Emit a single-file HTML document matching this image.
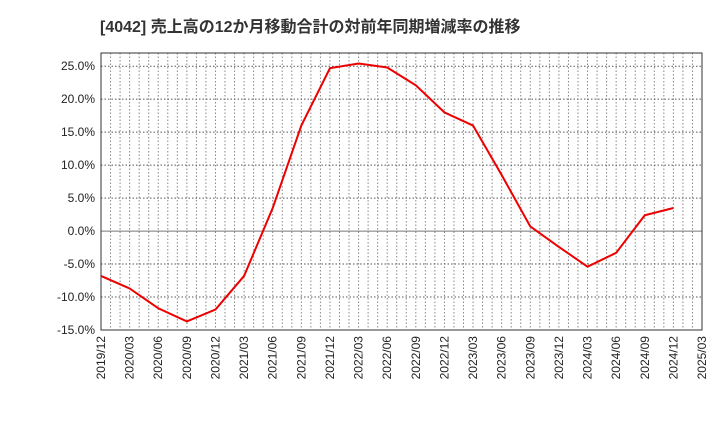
<!DOCTYPE html>
<html><head><meta charset="utf-8"><style>
body{margin:0;background:#fff;font-family:"Liberation Sans","Noto Sans CJK JP",sans-serif;}
</style></head><body>
<svg width="720" height="440" xmlns="http://www.w3.org/2000/svg">
<text x="100" y="32" font-size="16" font-weight="bold" fill="#333" font-family="Liberation Sans, Noto Sans CJK JP, sans-serif">[4042]  売上高の12か月移動合計の対前年同期増減率の推移</text>
<g id="grid"></g><g id="axes"></g><g id="series"></g>
</svg>
<script>
const categories=["2019/12","2020/03","2020/06","2020/09","2020/12","2021/03","2021/06","2021/09","2021/12","2022/03","2022/06","2022/09","2022/12","2023/03","2023/06","2023/09","2023/12","2024/03","2024/06","2024/09","2024/12","2025/03"];
const values=[-6.8,-8.7,-11.7,-13.7,-11.9,-6.8,3.5,16,24.7,25.4,24.8,22.1,18,16,8.5,0.7,-2.4,-5.4,-3.3,2.4,3.5];
const yTicks=[-15,-10,-5,0,5,10,15,20,25];
const yTickLabels=["-15.0%","-10.0%","-5.0%","0.0%","5.0%","10.0%","15.0%","20.0%","25.0%"];
const L=101,R=702,T=53,B=330,yMin=-15,yMax=27;
const xs=i=>L+(R-L)*i/(categories.length-1);
const ys=v=>B-(v-yMin)/(yMax-yMin)*(B-T);
const NS="http://www.w3.org/2000/svg";
function mk(t,a,p){const e=document.createElementNS(NS,t);for(const k in a)e.setAttribute(k,a[k]);p.appendChild(e);return e;}
const g=document.getElementById('grid'),ax=document.getElementById('axes'),s=document.getElementById('series');
const nm=(categories.length-1)*3;
for(let m=1;m<nm;m++){const x=L+(R-L)*m/nm;const l=mk('line',{x1:x,x2:x,y1:T,y2:B,stroke:'#888','stroke-dasharray':'1.5,2','stroke-width':1},g);

}
yTicks.forEach((v,i)=>{const y=ys(v);
const l=mk('line',{x1:L,x2:R,y1:y,y2:y,stroke:v===0?'#777':'#555','stroke-dasharray':v===0?'':'1.5,2','stroke-width':1},g);


const t=mk('text',{x:L-6,y:y+4,'text-anchor':'end','font-size':12,fill:'#222'},ax);t.textContent=yTickLabels[i];

});
categories.forEach((c,i)=>{const x=xs(i);
const t=mk('text',{transform:`translate(${x+4},${B+6}) rotate(-90)`,'text-anchor':'end','font-size':12,fill:'#222'},ax);t.textContent=c;

});
const fr=mk('rect',{x:L,y:T,width:R-L,height:B-T,fill:'none',stroke:'#333','stroke-width':1},ax);


const pl=mk('polyline',{points:values.map((v,i)=>xs(i)+','+ys(v)).join(' '),fill:'none',stroke:'#e00','stroke-width':2},s);


</script>
</body></html>
